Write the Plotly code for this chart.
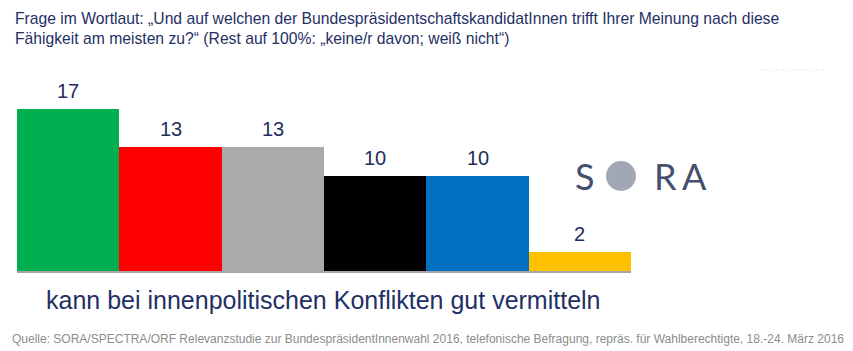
import plotly.graph_objects as go

categories = ["A", "B", "C", "D", "E", "F"]
values = [17, 13, 13, 10, 10, 2]
colors = ["#00B050", "#FF0000", "#A9AAAC", "#000000", "#0070C0", "#FFC000"]
labels = [str(v) for v in values]

title_text = ("Frage im Wortlaut: „Und auf welchen der BundespräsidentschaftskandidatInnen trifft Ihrer Meinung nach diese<br>"
              "Fähigkeit am meisten zu?“ (Rest auf 100%: „keine/r davon; weiß nicht“)")
subtitle = "kann bei innenpolitischen Konflikten gut vermitteln"
source = ("Quelle: SORA/SPECTRA/ORF Relevanzstudie zur BundespräsidentInnenwahl 2016, telefonische Befragung, "
          "repräs. für Wahlberechtigte, 18.-24. März 2016")

W, H = 853, 351
L, R, T, B = 17, 222, 80, 80
pw = W - L - R
ph = H - T - B

def px(x):
    return (x - L) / pw

def py(y):
    return (H - B - y) / ph

fig = go.Figure(go.Bar(
    x=categories, y=values, marker=dict(color=colors, line=dict(width=0)),
    hoverinfo="skip",
))

navy = "#1F3064"
ann = [
    dict(x=c, y=v, xref="x", yref="y", text=t, showarrow=False, yanchor="bottom",
         yshift=5, font=dict(size=20, color="#1F2D5C"))
    for c, v, t in zip(categories, values, labels)
]
ann += [
    dict(x=px(13), y=py(8), xref="paper", yref="paper", xanchor="left", yanchor="top",
         text=title_text, showarrow=False, align="left",
         font=dict(size=15.7, color=navy)),
    dict(x=px(323), y=py(300), xref="paper", yref="paper", xanchor="center", yanchor="middle",
         text=subtitle, showarrow=False, font=dict(size=25, color=navy)),
    dict(x=px(428), y=py(339), xref="paper", yref="paper", xanchor="center", yanchor="middle",
         text=source, showarrow=False, font=dict(size=12, color="#8C8C8C")),
    dict(x=px(585), y=py(176), xref="paper", yref="paper", xanchor="center", yanchor="middle",
         text="S", showarrow=False, font=dict(size=36, color="#45506E", family="Lato, sans-serif")),
    dict(x=px(665), y=py(176), xref="paper", yref="paper", xanchor="center", yanchor="middle",
         text="R", showarrow=False, font=dict(size=36, color="#45506E", family="Lato, sans-serif")),
    dict(x=px(694), y=py(176), xref="paper", yref="paper", xanchor="center", yanchor="middle",
         text="A", showarrow=False, font=dict(size=36, color="#45506E", family="Lato, sans-serif")),
]

fig.update_layout(
    width=W, height=H, margin=dict(l=L, r=R, t=T, b=B),
    paper_bgcolor="white", plot_bgcolor="white",
    bargap=0, showlegend=False,
    font=dict(family="Liberation Sans, Arial, sans-serif"),
    xaxis=dict(showticklabels=False, showgrid=False, zeroline=False, ticks="",
               showline=True, linecolor="#A6A6A6", linewidth=2),
    yaxis=dict(range=[0, 20], visible=False, showgrid=False, zeroline=False),
    annotations=ann,
    shapes=[
        dict(type="circle", xref="paper", yref="paper",
             x0=px(606), x1=px(636), y0=py(191), y1=py(161),
             fillcolor="#A2A7B5", line=dict(width=0)),
        dict(type="line", xref="paper", yref="paper",
             x0=px(761), x1=px(824), y0=py(70), y1=py(70),
             line=dict(color="#ECECEC", width=1, dash="3px,2px")),
    ],
)

fig.write_html("out.html")
